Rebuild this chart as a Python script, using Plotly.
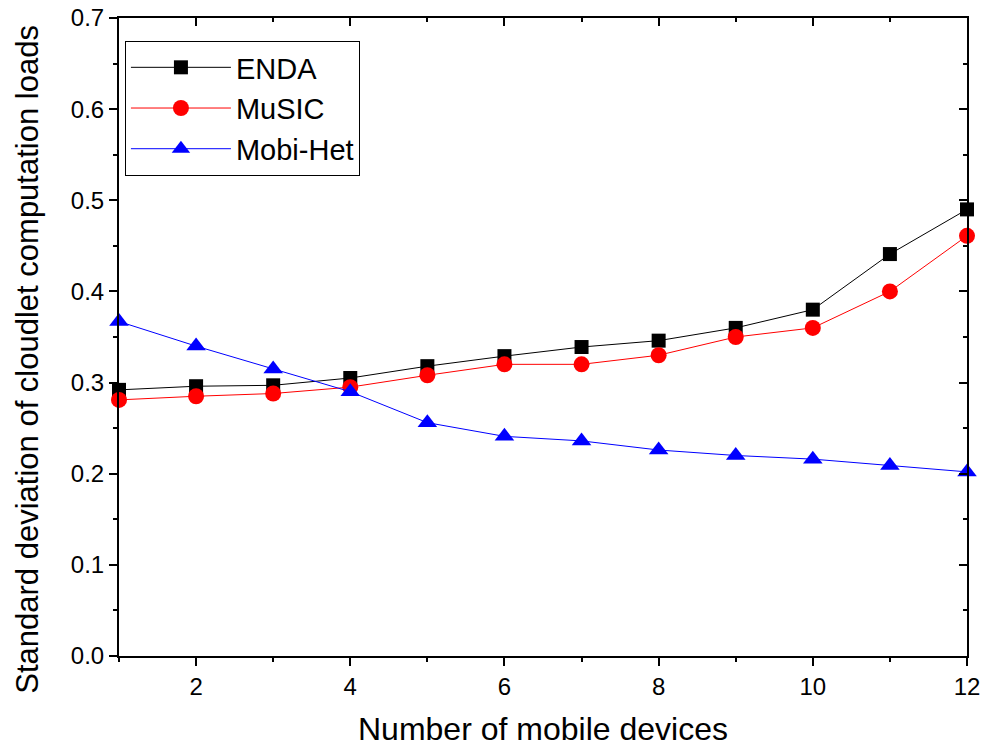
import plotly.graph_objects as go

# Number of mobile devices
devices = [1, 2, 3, 4, 5, 6, 7, 8, 9, 10, 11, 12]

# Standard deviation of cloudlet computation loads per scheme
enda = [0.292, 0.296, 0.297, 0.305, 0.318, 0.329, 0.339, 0.346, 0.360, 0.380, 0.441, 0.490]
music = [0.281, 0.285, 0.288, 0.295, 0.308, 0.320, 0.320, 0.330, 0.350, 0.360, 0.400, 0.461]
mobi_het = [0.367, 0.340, 0.315, 0.290, 0.256, 0.241, 0.236, 0.226, 0.220, 0.216, 0.209, 0.202]

series_names = ["ENDA", "MuSIC", "Mobi-Het"]
x_title = "Number of mobile devices"
y_title = "Standard deviation of cloudlet computation loads"

FONT = "Liberation Sans, Arial, sans-serif"

fig = go.Figure()
fig.add_trace(go.Scatter(
    x=devices, y=enda, name=series_names[0], mode="lines+markers",
    line=dict(color="black", width=1),
    marker=dict(symbol="square", size=14, color="black"),
    cliponaxis=False,
))
fig.add_trace(go.Scatter(
    x=devices, y=music, name=series_names[1], mode="lines+markers",
    line=dict(color="red", width=1),
    marker=dict(symbol="circle", size=16, color="red"),
    cliponaxis=False,
))
fig.add_trace(go.Scatter(
    x=devices, y=mobi_het, name=series_names[2], mode="lines+markers",
    line=dict(color="blue", width=1),
    marker=dict(symbol="triangle-up", size=17, color="blue"),
    cliponaxis=False,
))
# Invisible trace so the mirrored top/right frame axes get rendered
fig.add_trace(go.Scatter(
    x=devices, y=enda, xaxis="x2", yaxis="y2", mode="markers",
    marker=dict(opacity=0), showlegend=False, hoverinfo="skip",
))

axis_common = dict(
    showgrid=False, zeroline=False, showline=True, linecolor="black", linewidth=2,
    tickcolor="black", tickwidth=2, ticklen=8, automargin=False,
    tickfont=dict(family=FONT, size=24, color="black"),
)
frame_common = dict(
    showgrid=False, zeroline=False, showline=True, linecolor="black", linewidth=2,
    ticks="inside", ticklen=8, tickwidth=2, tickcolor="black", showticklabels=False,
    tickmode="linear", tick0=0, automargin=False,
)

fig.update_layout(
    width=986, height=752,
    paper_bgcolor="white", plot_bgcolor="white",
    margin=dict(l=119, r=19, t=18, b=96),
    font=dict(family=FONT, color="black"),
    xaxis=dict(
        **axis_common, range=[1, 12], tickmode="linear", tick0=0, dtick=2,
        ticks="outside",
        minor=dict(ticks="outside", ticklen=4, tickwidth=2, tickcolor="black", dtick=1, tick0=0),
    ),
    yaxis=dict(
        **axis_common, range=[0, 0.7], tickmode="linear", tick0=0, dtick=0.1,
        tickformat=".1f", ticks="outside",
        minor=dict(ticks="outside", ticklen=4, tickwidth=2, tickcolor="black", dtick=0.05, tick0=0),
    ),
    xaxis2=dict(
        **frame_common, overlaying="x", side="top", range=[1, 12], dtick=2,
        minor=dict(ticks="inside", ticklen=4, tickwidth=2, tickcolor="black", dtick=1, tick0=0),
    ),
    yaxis2=dict(
        **frame_common, overlaying="y", side="right", range=[0, 0.7], dtick=0.1,
        minor=dict(ticks="inside", ticklen=4, tickwidth=2, tickcolor="black", dtick=0.05, tick0=0),
    ),
    legend=dict(
        x=0.007, y=0.964, xanchor="left", yanchor="top",
        bgcolor="white", bordercolor="black", borderwidth=1,
        font=dict(family=FONT, size=29, color="black"),
        itemwidth=100, tracegroupgap=0,
    ),
    showlegend=True,
    annotations=[
        dict(text=x_title, xref="paper", yref="paper", x=0.5, y=-0.114,
             xanchor="center", yanchor="middle", showarrow=False,
             font=dict(family=FONT, size=32, color="black")),
        dict(text=y_title, xref="paper", yref="paper", x=-0.108, y=0.465,
             xanchor="center", yanchor="middle", showarrow=False, textangle=-90,
             font=dict(family=FONT, size=31, color="black")),
    ],
)

fig.write_html("out.html")
